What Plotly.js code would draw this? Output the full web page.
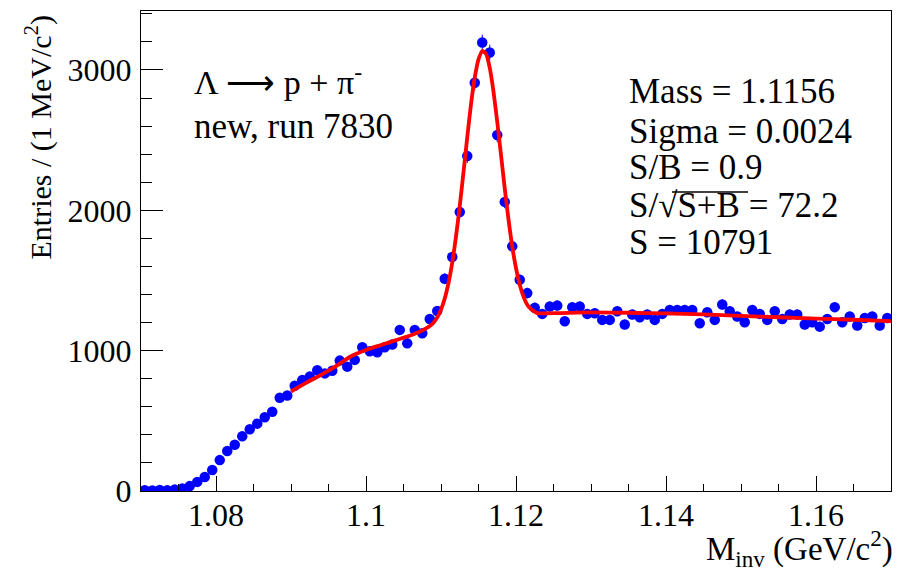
<!DOCTYPE html>
<html>
<head>
<meta charset="utf-8">
<script src="https://cdn.plot.ly/plotly-3.0.1.min.js"></script>
<style>
  html, body { margin: 0; padding: 0; background: #fff; }
  #chart { width: 897px; height: 573px; }
</style>
</head>
<body>
<div id="chart"></div>
<script>
// Histogram definition (1 MeV bins)
var histMin = 1.07;
var histMax = 1.17;
var nBins = 100;

// Entries per bin
var entries = [
  6, 4, 8, 5, 10, 18, 35, 65, 100, 150,
  220, 285, 330, 390, 440, 480, 525, 565, 665, 680,
  750, 790, 815, 860, 838, 857, 929, 886, 934, 1024,
  995, 988, 1024, 1043, 1148, 1052, 1148, 1124, 1225, 1282,
  1512, 1667, 1988, 2386, 2909, 3195, 3124, 2536, 2060, 1743,
  1505, 1410, 1305, 1262, 1314, 1321, 1210, 1310, 1314, 1262,
  1267, 1219, 1219, 1281, 1186, 1257, 1238, 1257, 1219, 1262,
  1290, 1290, 1290, 1290, 1195, 1274, 1219, 1329, 1281, 1243,
  1202, 1290, 1262, 1219, 1281, 1226, 1257, 1257, 1186, 1202,
  1171, 1226, 1310, 1202, 1243, 1179, 1233, 1243, 1179, 1233
];

// Fit curve
var fitX = [1.090, 1.092, 1.094, 1.096, 1.098, 1.100, 1.102, 1.104, 1.106, 1.107,
  1.108, 1.1085, 1.109, 1.1095, 1.110, 1.1105, 1.111, 1.1115, 1.112, 1.1125,
  1.113, 1.1135, 1.114, 1.1145, 1.115, 1.1155, 1.116, 1.1165, 1.117, 1.1175,
  1.118, 1.1185, 1.119, 1.1195, 1.120, 1.1205, 1.121, 1.1215, 1.122, 1.1225,
  1.123, 1.124, 1.126, 1.130, 1.135, 1.140, 1.145, 1.150, 1.155, 1.160, 1.165, 1.170];
var fitY = [709, 770, 828, 890, 960, 1005, 1040, 1075, 1110, 1131,
  1158, 1175, 1199, 1237, 1293, 1372, 1482, 1628, 1813, 2030,
  2272, 2520, 2756, 2945, 3075, 3135, 3115, 3015, 2845, 2630,
  2395, 2155, 1935, 1742, 1588, 1470, 1385, 1327, 1296, 1277,
  1266, 1266, 1268, 1272, 1270, 1265, 1258, 1248, 1238, 1228, 1220, 1210];

// Tick labels
var xTickVals = [1.08, 1.10, 1.12, 1.14, 1.16];
var xTickText = ['1.08', '1.1', '1.12', '1.14', '1.16'];
var yTickVals = [0, 1000, 2000, 3000];
var yTickText = ['0', '1000', '2000', '3000'];

// Text
var decayText = '\u039B \u27F6 p + \u03C0<sup>-</sup>';
var runText = 'new, run 7830';
var statLines = [
  'Mass = 1.1156',
  'Sigma = 0.0024',
  'S/B = 0.9',
  'S/\u221AS+B = 72.2',
  'S = 10791'
];
var xTitle = 'M<sub>inv</sub> (GeV/c<sup>2</sup>)';
var yTitle = 'Entries / (1 MeV/c<sup>2</sup>)';

var binW = (histMax - histMin) / nBins;
var centers = entries.map(function (v, i) { return histMin + (i + 0.5) * binW; });
var errs = entries.map(function (v) { return Math.sqrt(v); });

var FONT = 'Liberation Serif';

var dataTrace = {
  x: centers, y: entries, type: 'scatter', mode: 'markers',
  marker: { color: '#0000ff', size: 10.5, symbol: 'circle' },
  error_y: { type: 'data', array: errs, visible: true, color: '#0000ff', thickness: 1, width: 0 },
  error_x: { type: 'constant', value: binW / 2, visible: true, color: '#0000ff', thickness: 1, width: 0 },
  hoverinfo: 'x+y', showlegend: false
};
var fitTrace = {
  x: fitX, y: fitY, type: 'scatter', mode: 'lines',
  line: { color: '#ff0000', width: 3.8, shape: 'spline', smoothing: 0.6 },
  showlegend: false
};

// pixel helpers for text placement
var L = 141, R = 891, T = 11, B = 491;
function px(x) { return (x - L) / (R - L); }
function py(y) { return (B - y) / (B - T); }

var annotations = [];
annotations.push({ text: decayText, xref: 'paper', yref: 'paper', x: px(192), y: py(80),
  xanchor: 'left', yanchor: 'middle', showarrow: false, font: { family: FONT, size: 34, color: '#000' } });
annotations.push({ text: runText, xref: 'paper', yref: 'paper', x: px(192), y: py(126),
  xanchor: 'left', yanchor: 'middle', showarrow: false, font: { family: FONT, size: 35, color: '#000' } });
var statY = [92, 131, 168, 205, 243];
statLines.forEach(function (t, i) {
  annotations.push({ text: t, xref: 'paper', yref: 'paper', x: px(627), y: py(statY[i]),
    xanchor: 'left', yanchor: 'middle', showarrow: false, font: { family: FONT, size: 35, color: '#000' } });
});
annotations.push({ text: xTitle, xref: 'paper', yref: 'paper', x: px(895), y: py(548),
  xanchor: 'right', yanchor: 'middle', showarrow: false, font: { family: FONT, size: 33, color: '#000' } });
annotations.push({ text: yTitle, xref: 'paper', yref: 'paper', x: px(39), y: py(12),
  xanchor: 'center', yanchor: 'top', textangle: -90, showarrow: false, font: { family: FONT, size: 30, color: '#000' } });

var layout = {
  width: 897, height: 573,
  margin: { l: L, r: 897 - R, t: T, b: 573 - B, pad: 0 },
  paper_bgcolor: '#ffffff', plot_bgcolor: '#ffffff',
  font: { family: FONT, size: 30, color: '#000' },
  xaxis: {
    range: [histMin, histMax], showgrid: false, zeroline: false,
    showline: true, linecolor: '#000', linewidth: 1, mirror: true,
    ticks: 'inside', ticklen: 15, tickcolor: '#000', tickwidth: 1,
    tickvals: xTickVals, ticktext: xTickText, ticklabelstandoff: -4,
    tickfont: { family: FONT, size: 32, color: '#000' },
    minor: { dtick: 0.005, tick0: 1.07, ticks: 'inside', ticklen: 7.5, tickcolor: '#000', tickwidth: 1, showgrid: false }
  },
  yaxis: {
    range: [0, 3420], showgrid: false, zeroline: false,
    showline: true, linecolor: '#000', linewidth: 1, mirror: true,
    ticks: 'inside', ticklen: 22, tickcolor: '#000', tickwidth: 1,
    tickvals: yTickVals, ticktext: yTickText, ticklabelstandoff: 2,
    tickfont: { family: FONT, size: 32, color: '#000' },
    minor: { dtick: 200, tick0: 0, ticks: 'inside', ticklen: 11, tickcolor: '#000', tickwidth: 1, showgrid: false }
  },
  annotations: annotations,
  shapes: [
    // overline of the square root in S/sqrt(S+B)
    { type: 'line', xref: 'paper', yref: 'paper', x0: px(672), x1: px(748), y0: py(192), y1: py(192),
      line: { color: '#000', width: 1.3 } }
  ]
};

Plotly.newPlot('chart', [dataTrace, fitTrace], layout, { displayModeBar: false, staticPlot: true });
</script>
</body>
</html>
